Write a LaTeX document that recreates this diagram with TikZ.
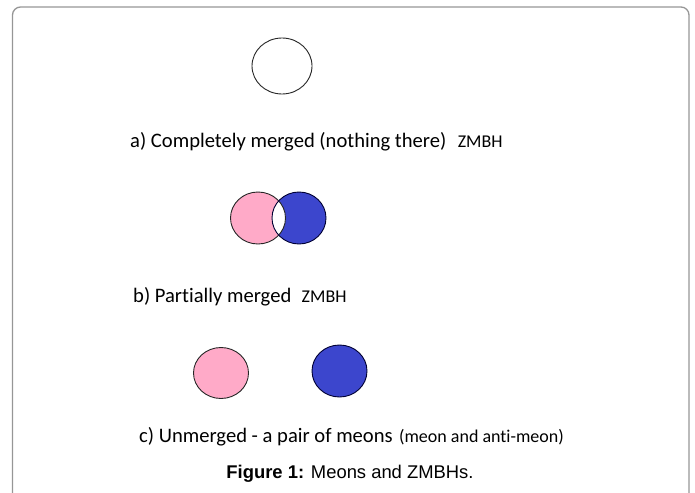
\documentclass[tikz,border=0pt]{standalone}
\usepackage{fontspec}
\setmainfont[Ligatures={NoCommon}]{Carlito}
\newfontfamily\capfont{Liberation Sans}
\usetikzlibrary{positioning}

\definecolor{meonpink}{RGB}{255,170,200}
\definecolor{meonblue}{RGB}{60,70,205}
\definecolor{framegray}{RGB}{150,150,150}

\tikzset{
  lbl/.style={anchor=base west,inner sep=0pt,font=\fontsize{20.6}{24}\selectfont},
  small/.style={anchor=base west,inner sep=0pt,font=\fontsize{18}{21}\selectfont},
  rim/.style={line width=0.9pt,draw=black!85}
}

\begin{document}
\begin{tikzpicture}[x=1pt,y=-1pt]
      \useasboundingbox (0,0) rectangle (695,492);
      \clip (0,0) rectangle (695,492);
      \draw[framegray,line width=1.3pt,rounded corners=8pt] (12.5,510) -- (12.5,7) -- (689,7) -- (689,510);

      %% a) one circle
      \coordinate (0) at (282,66);
      \draw[rim,fill=white] (0) ellipse (30 and 28);
      \node[lbl] (a) at (130,147) {a) Completely merged (nothing there)};
      \node[small,right=11pt of a.base east,anchor=base west] (za) {ZMBH};

      %% b) overlapping pair
      \coordinate (1) at (258,218);
      \coordinate (2) at (299,218);
      \fill[meonpink] (1) ellipse (27.5 and 26);
      \fill[meonblue] (2) ellipse (27 and 26);
      \begin{scope}
        \clip (1) ellipse (27.5 and 26);
        \fill[white] (2) ellipse (27 and 26);
      \end{scope}
      \draw[rim] (1) ellipse (27.5 and 26);
      \draw[rim,draw=black!80!blue] (2) ellipse (27 and 26);
      \node[lbl] (b) at (133,302) {b) Partially merged};
      \node[small,right=10pt of b.base east,anchor=base west] (zb) {ZMBH};

      %% c) apart
      \coordinate (3) at (221,373);
      \coordinate (4) at (339.5,371);
      \draw[rim,fill=meonpink] (3) ellipse (27.5 and 25.5);
      \draw[rim,draw=black!80!blue,fill=meonblue] (4) ellipse (27.5 and 26);
      \node[lbl] (c) at (139,442) {c) Unmerged - a pair of meons};
      \node[small,right=6pt of c.base east,anchor=base west] (zc) {(meon and anti-meon)};

      \node[anchor=base,inner sep=0pt,font=\capfont\fontsize{18.4}{22}\selectfont] (cap) at (350,478) {\textbf{Figure 1:} Meons and ZMBHs.};
    \end{tikzpicture}
\end{document}
